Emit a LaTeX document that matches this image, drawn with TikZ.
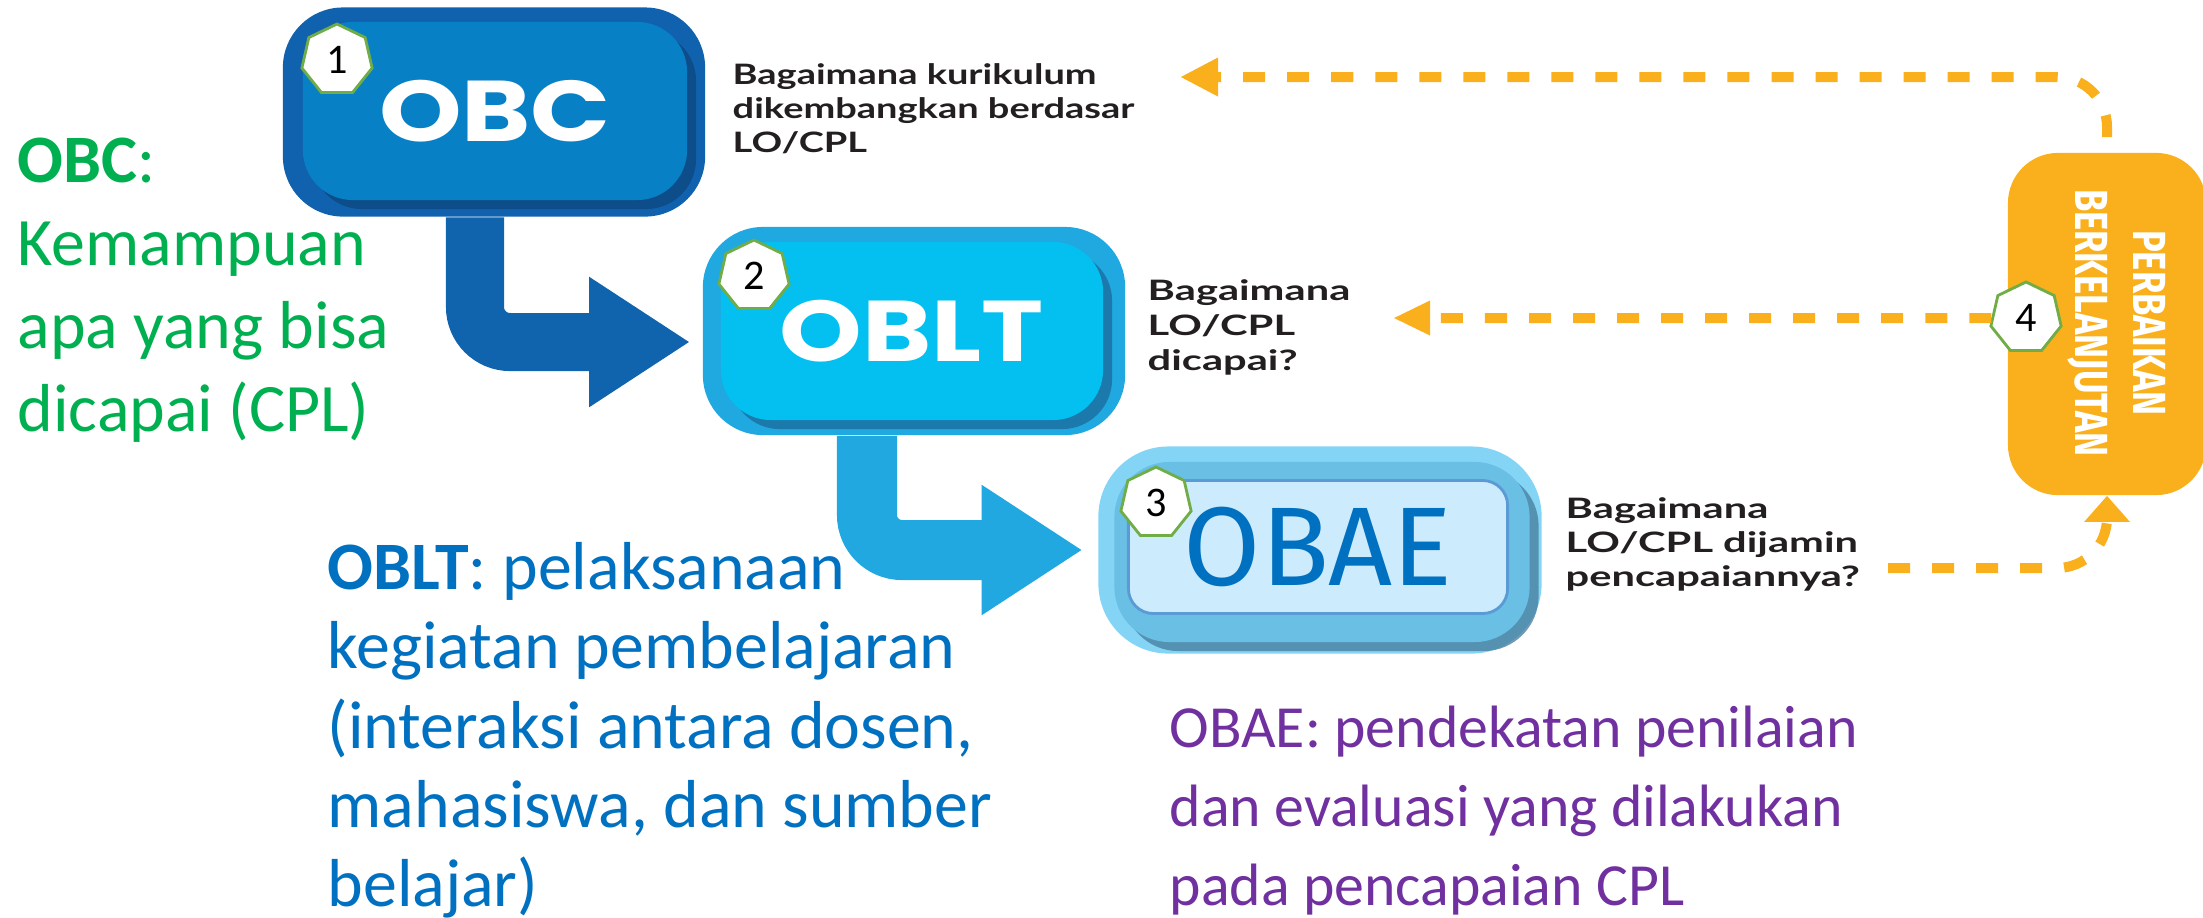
\documentclass[tikz,border=0pt]{standalone}
\usepackage{fontspec}
\usepackage{tikz}
\setmainfont{Carlito}
\newfontfamily\headfont[FakeStretch=1.22]{Poppins}
\newfontfamily\askfont[FakeStretch=1.35]{Lato}
\newfontfamily\askwidefont[FakeStretch=1.48]{Lato}
\newfontfamily\obaefont{Fira Sans}
\newfontfamily\perbfont[FakeStretch=0.78]{Fira Sans}
\usetikzlibrary{shapes.geometric,arrows.meta,positioning,calc,shadows}
\definecolor{obcout}{RGB}{17,98,174}
\definecolor{obcin}{RGB}{8,128,198}
\definecolor{obcshade}{RGB}{13,72,128}
\definecolor{obltout}{RGB}{32,168,224}
\definecolor{obltin}{RGB}{3,192,240}
\definecolor{obltshade}{RGB}{26,110,160}
\definecolor{obaeout}{RGB}{132,212,246}
\definecolor{obaemid}{RGB}{105,191,228}
\definecolor{obaein}{RGB}{204,235,252}
\definecolor{obaeline}{RGB}{91,155,213}
\definecolor{obaeshade}{RGB}{74,130,160}
\definecolor{obaetext}{RGB}{0,112,192}
\definecolor{arrowone}{RGB}{16,100,174}
\definecolor{arrowtwo}{RGB}{34,168,224}
\definecolor{orangeA}{RGB}{249,176,28}
\definecolor{heptgreen}{RGB}{112,173,71}
\definecolor{asktext}{RGB}{35,31,32}
\definecolor{noteg}{RGB}{0,176,80}
\definecolor{noteb}{RGB}{0,112,192}
\definecolor{notep}{RGB}{112,48,160}
\tikzset{
    outerbox/.style={
        rectangle,
        rounded corners=0.6cm,
        inner sep=0pt
    },
    innerbox/.style={
        rectangle,
        rounded corners=0.5cm,
        inner sep=0pt,
        text=white,
        font=\headfont\bfseries\fontsize{24.5}{28}\selectfont
    },
    hept/.style={
        regular polygon,
        regular polygon sides=7,
        draw=heptgreen,
        fill=white,
        line width=0.8pt,
        minimum size=0.72cm,
        inner sep=0pt,
        font=\fontsize{12}{12}\selectfont
    },
    dasharrow/.style={
        draw=orangeA,
        line width=0.1cm,
        dash pattern=on 0.22cm off 0.22cm,
        rounded corners=0.5cm
    },
    ask/.style={
        anchor=north west,
        align=left,
        inner sep=0pt,
        text=asktext,
        font=\askfont\bfseries\fontsize{8}{9.7}\selectfont
    },
    note/.style={
        anchor=north west,
        align=left,
        inner sep=0pt,
        font=\fontsize{19.3}{22.5}\selectfont
    }
}

\begin{document}
\begin{tikzpicture}[x=0.01cm, y=-0.01cm]
\useasboundingbox (0,0) rectangle (2203,917);

% OBC
\node[outerbox, fill=obcout, minimum width=4.22cm, minimum height=2.09cm] (obc) at (494,112) {};
\node[innerbox, fill=obcin, minimum width=3.84cm, minimum height=1.78cm,
      drop shadow={shadow xshift=0.09cm, shadow yshift=-0.09cm, fill=obcshade, opacity=0.8}] (obcin) at (495,111) {OBC};
\node[hept] (n1) at (337,60) {1};

% OBLT
\node[outerbox, fill=obltout, minimum width=4.22cm, minimum height=2.08cm] (oblt) at (914,331) {};
\node[innerbox, fill=obltin, minimum width=3.82cm, minimum height=1.78cm,
      drop shadow={shadow xshift=0.09cm, shadow yshift=-0.09cm, fill=obltshade, opacity=0.8}] (obltin) at (912,331) {OBLT};
\node[hept] (n2) at (754,276) {2};

% OBAE
\node[outerbox, fill=obaeout, minimum width=4.43cm, minimum height=2.07cm, rounded corners=0.7cm] (obae) at (1320,550) {};
\node[outerbox, fill=obaemid, minimum width=4.15cm, minimum height=1.80cm, rounded corners=0.55cm,
      drop shadow={shadow xshift=0.09cm, shadow yshift=-0.09cm, fill=obaeshade, opacity=0.8}] (obaemid) at (1322,552) {};
\node[rectangle, rounded corners=0.25cm, draw=obaeline, line width=0.8pt, fill=obaein,
      minimum width=3.79cm, minimum height=1.33cm, text=obaetext,
      font=\obaefont\fontsize{31.8}{34}\selectfont] (obaein) at (1318,547) {OBAE};
\node[hept] (n3) at (1156,503) {3};

% block arrows
\draw[draw=arrowone, line width=0.58cm, rounded corners=0.35cm, shorten >=0.12cm,
      -{Triangle[length=1.01cm, width=1.23cm]}] ([xshift=-0.19cm]obc.south) |- ([yshift=-0.11cm]oblt.west);
\draw[draw=arrowtwo, line width=0.6cm, rounded corners=0.35cm, shorten >=0.15cm,
      -{Triangle[length=1.01cm, width=1.23cm]}] ([xshift=-0.47cm]oblt.south) |- (obae.west);

% PERBAIKAN BERKELANJUTAN
\node[rectangle, rounded corners=0.5cm, fill=orangeA, minimum width=1.98cm, minimum height=3.42cm] (perb) at (2107,324) {};
\node[rotate=-90, align=center, text=white, font=\perbfont\bfseries\fontsize{13.2}{16.5}\selectfont] (perbtxt) at (2117,323) {PERBAIKAN\\BERKELANJUTAN};
\node[hept] (n4) at (2026,318) {4};

% feedback loops
\coordinate (tip1) at (1180,77);
\coordinate (tip2) at (1393,318);
\coordinate (from3) at (1888,568);
\draw[dasharrow, shorten <=0.15cm, -{Triangle[length=0.38cm, width=0.36cm]}] (perb.north) |- (tip1);
\draw[dasharrow, -{Triangle[length=0.37cm, width=0.32cm]}] (n4.west) -- (tip2);
\draw[dasharrow, -{Triangle[length=0.26cm, width=0.44cm]}] (from3) -| (perb.south);

% questions
\node[ask] (q1) at (732,63) {Bagaimana kurikulum\\dikembangkan berdasar\\LO/CPL};
\node[ask, font=\askwidefont\bfseries\fontsize{8}{10}\selectfont] (q2) at (1147,279) {Bagaimana\\LO/CPL\\dicapai?};
\node[ask, font=\askwidefont\bfseries\fontsize{8}{9.7}\selectfont] (q3) at (1565,497) {Bagaimana\\LO/CPL dijamin\\pencapaiannya?};

% notes
\node[note, text=noteg, font=\fontsize{19.3}{23.6}\selectfont] (obcnote) at (17,137) {\textbf{OBC}:\\Kemampuan\\apa yang bisa\\dicapai (CPL)};
\node[note, text=noteb] (obltnote) at (327,542) {\textbf{OBLT}: pelaksanaan\\kegiatan pembelajaran\\(interaksi antara dosen,\\mahasiswa, dan sumber\\belajar)};
\node[note, text=notep, font=\fontsize{17}{22.5}\selectfont] (obaenote) at (1169,705) {OBAE: pendekatan penilaian\\dan evaluasi yang dilakukan\\pada pencapaian CPL};
\end{tikzpicture}
\end{document}
